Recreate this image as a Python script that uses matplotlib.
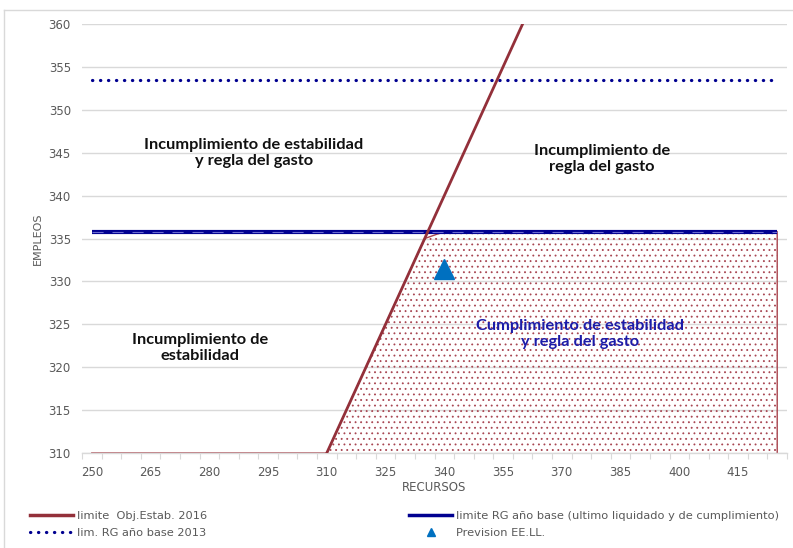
import matplotlib
matplotlib.use("Agg")
import matplotlib.pyplot as plt
from matplotlib.lines import Line2D
import numpy as np

# ---- data ----
recursos = [250, 255, 260, 265, 270, 275, 280, 285, 290, 295, 300, 305, 310, 315,
            320, 325, 330, 335, 340, 345, 350, 355, 360, 365, 370, 375, 380, 385,
            390, 395, 400, 405, 410, 415, 420, 425]
lim_obj_estab = [250, 255, 260, 265, 270, 275, 280, 285, 290, 295, 300, 305, 310, 315,
                 320, 325, 330, 335, 340, 345, 350, 355, 360, 365, 370, 375, 380, 385,
                 390, 395, 400, 405, 410, 415, 420, 425]
area_cumplimiento = [310, 310, 310, 310, 310, 310, 310, 310, 310, 310, 310, 310, 310, 315,
                     320, 325, 330, 335, 335.8, 335.8, 335.8, 335.8, 335.8, 335.8, 335.8,
                     335.8, 335.8, 335.8, 335.8, 335.8, 335.8, 335.8, 335.8, 335.8, 335.8, 335.8]
lim_rg_base = [335.8] * len(recursos)
lim_rg_2013 = [353.5] * len(recursos)
prevision_x = [340]
prevision_y = [331.5]
xtick_labels = [250, 265, 280, 295, 310, 325, 340, 355, 370, 385, 400, 415]
ytick_labels = [310, 315, 320, 325, 330, 335, 340, 345, 350, 355, 360]

RED = "#93303a"
NAVY = "#000090"
TRI = "#0070c0"
GRAY = "#595959"
GRID = "#d9d9d9"

plt.rcParams["hatch.linewidth"] = 0.6
fig = plt.figure(figsize=(7.93, 5.48), dpi=100)
W, H = 793, 548
ax = fig.add_axes([82 / W, 1 - 453 / H, (787 - 82) / W, (453 - 24) / H])

# outer chart border (left & top)
fig.add_artist(Line2D([4 / W, 4 / W], [0, 1 - 10 / H], color=GRID, lw=1.0))
fig.add_artist(Line2D([4 / W, 1], [1 - 10 / H, 1 - 10 / H], color=GRID, lw=1.0))

# area with dot pattern
ax.fill_between(recursos, 310, area_cumplimiento, facecolor="none",
                edgecolor="#a84652", hatch="...", linewidth=0.0, zorder=2)
ax.plot(recursos + [recursos[-1]], area_cumplimiento + [310], color="#a8434c",
        lw=1.0, zorder=2.5)

ax.plot(recursos, lim_rg_2013, color=NAVY, lw=2.3, linestyle=(0, (0.1, 2.4)),
        dash_capstyle="round", zorder=3)
ax.plot(recursos, lim_rg_base, color=NAVY, lw=3.0, solid_capstyle="butt", zorder=3)
ax.plot(recursos, lim_rg_base, color="#6a6ad0", lw=0.8, linestyle=(0, (10, 8)), zorder=3.1)
ax.plot(recursos, lim_obj_estab, color=RED, lw=2.0, zorder=4)
ax.plot(prevision_x, prevision_y, marker="^", color=TRI, markersize=15,
        linestyle="none", zorder=5)

ax.set_xlim(247.5, 427.5)
ax.set_ylim(310, 360)
ax.set_xticks(xtick_labels)
ax.set_xticklabels([str(v) for v in xtick_labels])
ax.set_xticks(np.arange(247.5, 428, 5), minor=True)
ax.set_yticks(ytick_labels)
ax.set_yticklabels([str(v) for v in ytick_labels])
ax.tick_params(axis="x", which="major", length=0, pad=9, labelsize=8.5, labelcolor=GRAY)
ax.tick_params(axis="x", which="minor", length=4, width=0.8, color=GRID, direction="out")
ax.tick_params(axis="y", length=0, pad=8, labelsize=8.5, labelcolor=GRAY)
ax.grid(axis="y", color=GRID, lw=1.0, zorder=0)
ax.set_axisbelow(True)
for s in ["top", "right", "left"]:
    ax.spines[s].set_visible(False)
ax.spines["bottom"].set_color(GRID)
ax.spines["bottom"].set_linewidth(1.0)

ax.set_ylabel("EMPLEOS", fontsize=8, color=GRAY, labelpad=4)
ax.set_xlabel("RECURSOS", fontsize=8.5, color=GRAY, labelpad=2)

tfont = dict(family=["Lato", "DejaVu Sans"], fontsize=11.8, fontweight="bold",
             ha="center", va="center", linespacing=1.15)
ax.text(291.4, 345.0, "Incumplimiento de estabilidad\ny regla del gasto", color="#111111", **tfont)
ax.text(380.3, 344.3, "Incumplimiento de\nregla del gasto", color="#111111", **tfont)
ax.text(277.6, 322.2, "Incumplimiento de\nestabilidad", color="#111111", **tfont)
ax.text(374.6, 323.9, "Cumplimiento de estabilidad\ny regla del gasto", color="#1c1ca8", **tfont)

# legend
h_red = Line2D([], [], color=RED, lw=2.5)
h_dot = Line2D([], [], color=NAVY, lw=2.3, linestyle=(0, (0.1, 2.4)), dash_capstyle="round")
h_blue = Line2D([], [], color=NAVY, lw=2.5)
h_tri = Line2D([], [], color=TRI, marker="^", markersize=6, linestyle="none")
lkw = dict(frameon=False, fontsize=8.2, handlelength=3.8, handletextpad=0.3,
           labelspacing=0.6, labelcolor=GRAY, borderaxespad=0, borderpad=0)
fig.legend([h_red, h_dot], ["limite  Obj.Estab. 2016", "lim. RG año base 2013"],
           loc="upper left", bbox_to_anchor=(30 / W, 1 - 511 / H), **lkw)
fig.legend([h_blue, h_tri], ["limite RG año base (ultimo liquidado y de cumplimiento)",
                             "Prevision EE.LL."],
           loc="upper left", bbox_to_anchor=(409 / W, 1 - 511 / H), **lkw)

fig.savefig("out.png", dpi=100)
